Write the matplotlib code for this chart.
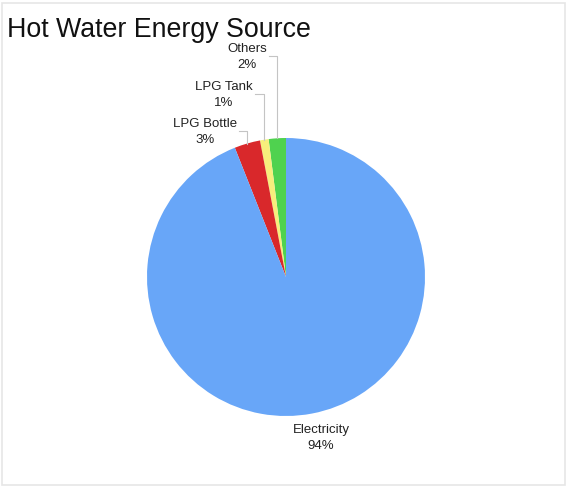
import numpy as np
import matplotlib
matplotlib.use("Agg")
import matplotlib.pyplot as plt
from matplotlib.patches import Rectangle

plt.rcParams["font.family"] = ["Liberation Sans", "DejaVu Sans"]

TITLE = "Hot Water Energy Source"
LABELS = ["Others", "LPG Tank", "LPG Bottle", "Electricity"]
SHARES = [2, 1, 3, 94]
COLORS = ["#4fd24f", "#f7ee7c", "#d9282b", "#68a6f8"]

W, H = 569, 488
fig = plt.figure(figsize=(W / 100, H / 100), dpi=100)
fig.patch.set_facecolor("white")
ax = fig.add_axes([0, 0, 1, 1])

# faint frame around the whole panel
ax.add_patch(Rectangle((2, 3), 563, 482, fill=False, edgecolor="#e6e6e6", linewidth=1.2))

cx, cy, r = 286, H - 277, 139
wedges, _ = ax.pie(SHARES, colors=COLORS, startangle=90, counterclock=True,
                   center=(cx, cy), radius=r, frame=True,
                   wedgeprops=dict(linewidth=0))
ax.set_xlim(0, W)
ax.set_ylim(0, H)
ax.set_aspect("equal")
ax.axis("off")

ax.text(7, H - 30, TITLE, fontsize=19.3, color="#111111", ha="left", va="center")

# small slices get labels stacked above the pie with elbow leader lines
label_rows = [H - 57, H - 95, H - 132]
label_x = [247, 224, 205]
renderer = fig.canvas.get_renderer()
for i, (w, ly, lx) in enumerate(zip(wedges[:3], label_rows, label_x)):
    mid = np.deg2rad((w.theta1 + w.theta2) / 2)
    px, py = cx + r * np.cos(mid), cy + r * np.sin(mid)
    t = ax.text(lx, ly, f"{LABELS[i]}\n{SHARES[i]}%", fontsize=9.5, color="#222222",
                ha="center", va="center", linespacing=1.4)
    bb = t.get_window_extent(renderer).transformed(ax.transData.inverted())
    ax.plot([bb.x1 + 2, px, px], [ly + 1, ly + 1, py], color="#c4c4c4", linewidth=0.8)

ax.text(cx + 35, H - 438, f"{LABELS[3]}\n{SHARES[3]}%", fontsize=9.5, color="#222222",
        ha="center", va="center", linespacing=1.4)

fig.savefig("out.png", dpi=100, facecolor="white")
